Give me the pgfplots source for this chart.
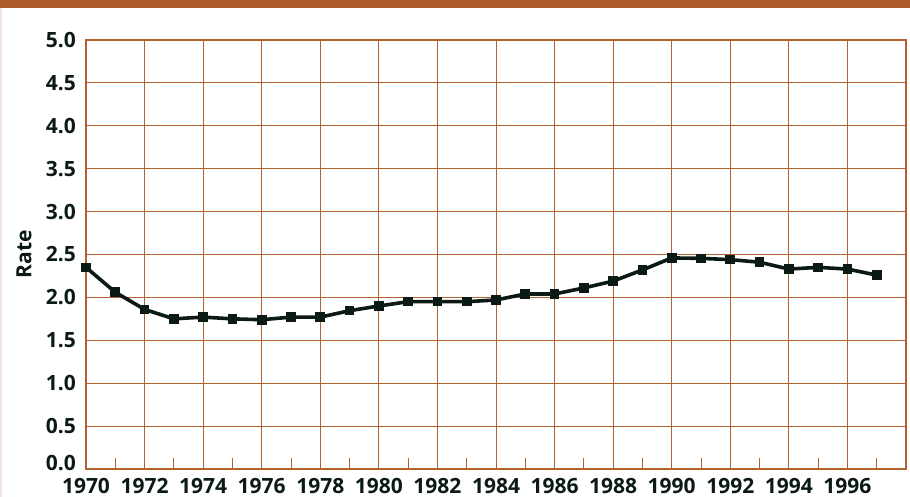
\documentclass[border=0pt]{standalone}
\usepackage{pgfplots}
\pgfplotsset{compat=1.18}
\usepackage{fontspec}
\setmainfont{Open Sans}
\definecolor{band}{HTML}{AB5A2C}
\definecolor{gridc}{HTML}{B3612F}
\definecolor{linec}{HTML}{0B1A14}
\definecolor{edge}{HTML}{F3E4DC}
\begin{document}
\begin{tikzpicture}
\path[use as bounding box] (-86pt,-28pt) rectangle (824pt,469pt);
\begin{axis}[
  scale only axis,
  width=820pt, height=429pt,
  xmin=1970, xmax=1998, ymin=0, ymax=5,
  xtick={1970,1972,...,1996},
  minor xtick={1971,1973,...,1997},
  ytick={0.5,1,...,5},
  extra y ticks={0},
  extra y tick style={grid=none, yticklabel style={yshift=6pt}},
  grid=major,
  major grid style={gridc, line width=1pt},
  axis line style={gridc, line width=2.6pt},
  major tick length=0pt,
  minor tick length=11pt,
  minor tick style={gridc, line width=1pt},
  tick align=inside,
  xtick pos=bottom, ytick pos=left,
  /pgf/number format/assume math mode=true,
  xticklabel={\pgfmathprintnumber[1000 sep={},fixed,precision=0]{\tick}},
  yticklabel={\pgfmathprintnumber[fixed,fixed zerofill,precision=1]{\tick}},
  tick label style={font=\fontsize{21}{24}\selectfont\bfseries, text=linec, inner sep=0pt},
  xticklabel style={anchor=north, yshift=-9pt},
  yticklabel style={anchor=east, xshift=-10pt},
  ylabel={Rate},
  ylabel style={font=\fontsize{21}{24}\selectfont\bfseries, text=linec, at={(axis description cs:-0.0756,0.5)}, anchor=center},
  clip=false,
]
\addplot[linec, line width=3.6pt, line join=round, mark=square*, mark size=4.3pt, mark options={line width=0pt, fill=linec}] coordinates {
(1970,2.35) (1971,2.06) (1972,1.86) (1973,1.75) (1974,1.77) (1975,1.75)
(1976,1.74) (1977,1.77) (1978,1.77) (1979,1.845) (1980,1.90) (1981,1.95)
(1982,1.95) (1983,1.95) (1984,1.97) (1985,2.04) (1986,2.04) (1987,2.11)
(1988,2.19) (1989,2.32) (1990,2.46) (1991,2.455) (1992,2.44) (1993,2.41)
(1994,2.33) (1995,2.35) (1996,2.33) (1997,2.26)
};
\end{axis}
\fill[band] (-86pt,461pt) rectangle (824pt,469pt);
\fill[edge] (-86pt,-28pt) rectangle (-84pt,461pt);
\end{tikzpicture}
\end{document}
